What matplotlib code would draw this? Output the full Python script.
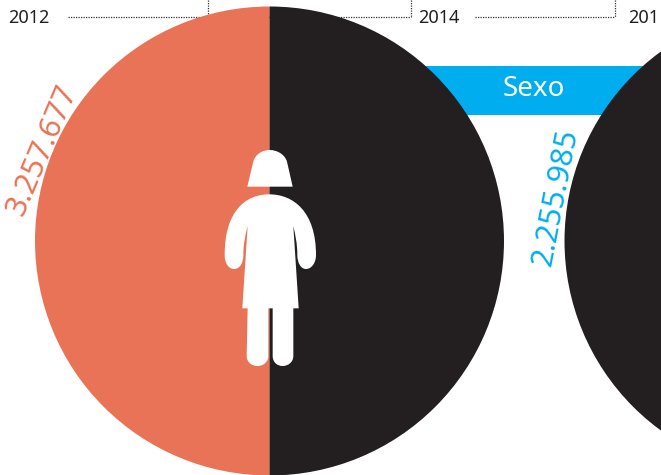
import matplotlib
matplotlib.use("Agg")
import matplotlib.pyplot as plt
from matplotlib.patches import PathPatch, Rectangle
from matplotlib.path import Path

W, H = 661, 475
plt.rcParams['font.family'] = ['Noto Sans', 'DejaVu Sans']

# Data
years = ["2012", "2014", "201"]
totals = ["3.257.677", "2.255.985"]
title_label = "Sexo"
shares_2012 = [50, 50]
shares_2014 = [50, 50]

CORAL = "#E97356"
BLACK = "#231F20"
BLUE = "#00AEEF"

fig = plt.figure(figsize=(W / 100, H / 100), dpi=100, facecolor="white")
ax = fig.add_axes([0, 0, 1, 1])


def fy(y):
    return H - y


# Dotted timeline
dot = dict(color="#333333", lw=0.9, ls=(0, (1, 1)), zorder=1)
ax.plot([68, 411], [fy(17), fy(17)], **dot)
ax.plot([208, 208], [fy(0), fy(17)], **dot)
ax.plot([411, 411], [fy(0), fy(17)], **dot)
ax.plot([475, 615], [fy(17), fy(17)], **dot)
ax.plot([615, 615], [fy(0), fy(17)], **dot)

# Banner
ax.add_patch(Rectangle((420, fy(114.5)), 241, 48.5, fc=BLUE, ec="none", zorder=1))

# Circles
ax.pie(shares_2012, colors=[CORAL, BLACK], startangle=90, radius=234.5,
       center=(269.5, fy(241)), wedgeprops=dict(lw=0, zorder=2))
ax.pie(shares_2014, colors=[BLACK, BLACK], startangle=90, radius=234.5,
       center=(799, fy(241)), wedgeprops=dict(lw=0, zorder=2))

ax.set_xlim(0, W)
ax.set_ylim(0, H)
ax.set_aspect("auto")
ax.axis("off")

# Icon (crop coordinates, 3x from origin 210,140)


def pt(x, y):
    return (210 + x / 3, fy(140 + y / 3))


def make(cmds):
    verts, codes = [], []
    for c in cmds:
        if c[0] == "M":
            verts.append(pt(*c[1])); codes.append(Path.MOVETO)
        elif c[0] == "L":
            verts.append(pt(*c[1])); codes.append(Path.LINETO)
        elif c[0] == "C":
            for p in c[1:]:
                verts.append(pt(*p)); codes.append(Path.CURVE4)
    verts.append(verts[0]); codes.append(Path.CLOSEPOLY)
    return Path(verts, codes)


head = make([
    ("M", (112, 140)), ("L", (130, 65)),
    ("C", (136, 42), (158, 30), (179, 30)),
    ("C", (200, 30), (224, 42), (231, 65)),
    ("L", (248, 140)),
])
body = make([
    ("M", (178, 163)),
    ("C", (250, 163), (318, 215), (318, 345)),
    ("C", (318, 368), (305, 387), (288, 387)),
    ("C", (272, 387), (262, 368), (262, 345)),
    ("C", (262, 310), (256, 285), (250, 258)),
    ("L", (266, 505)), ("L", (250, 505)), ("L", (250, 648)),
    ("C", (250, 666), (235, 678), (218, 678)),
    ("C", (201, 678), (188, 666), (188, 648)),
    ("L", (188, 505)), ("L", (175, 505)), ("L", (175, 648)),
    ("C", (175, 666), (160, 678), (142, 678)),
    ("C", (125, 678), (110, 666), (110, 648)),
    ("L", (113, 505)), ("L", (97, 505)), ("L", (113, 258)),
    ("C", (106, 285), (100, 310), (100, 345)),
    ("C", (100, 368), (90, 387), (72, 387)),
    ("C", (55, 387), (44, 368), (44, 345)),
    ("C", (44, 215), (105, 163), (178, 163)),
])
for p in (head, body):
    ax.add_patch(PathPatch(p, fc="white", ec="none", zorder=3))

# Text
yr = dict(fontsize=13, color="#231F20", va="center", ha="left", zorder=4)
ax.text(8, fy(18), years[0], **yr)
ax.text(418, fy(18), years[1], **yr)
ax.text(628, fy(18), years[2], **yr)

ax.text(534, fy(89), title_label, color="white", fontsize=20, ha="center",
        va="center", zorder=4)
ax.text(42, fy(150), totals[0], color=CORAL, fontsize=22, rotation=67,
        rotation_mode="anchor", ha="center", va="center", zorder=4)
ax.text(556, fy(197), totals[1], color=BLUE, fontsize=22, rotation=79,
        rotation_mode="anchor", ha="center", va="center", zorder=5)

fig.savefig("out.png", dpi=100, facecolor="white")
